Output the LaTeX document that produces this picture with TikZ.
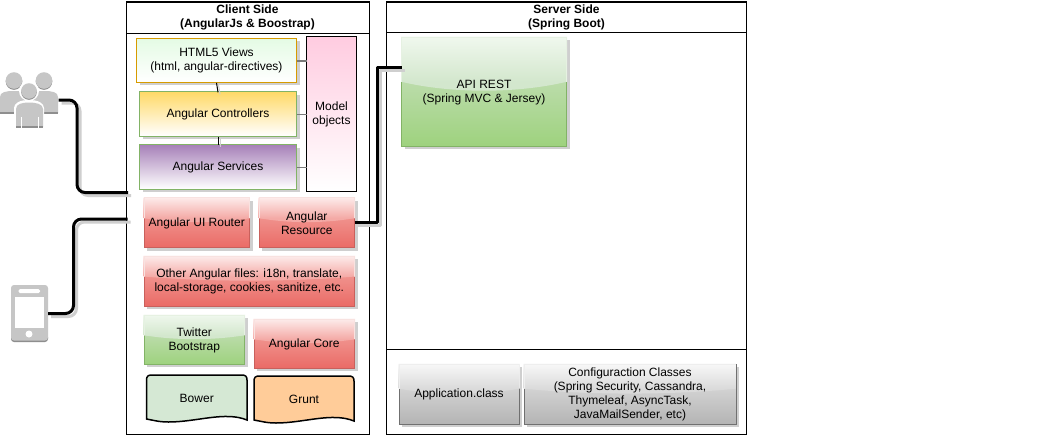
\documentclass[tikz,border=0pt]{standalone}
\usepackage{fontspec}
\setmainfont{Liberation Sans}
\definecolor{redA}{HTML}{FDEDEC}\definecolor{redB}{HTML}{F4AAA6}\definecolor{redC}{HTML}{F0918C}\definecolor{redD}{HTML}{EA6B66}\definecolor{redE}{HTML}{C9605C}\definecolor{redF}{HTML}{F8E2E0}
\definecolor{grnA}{HTML}{F0F8EE}\definecolor{grnB}{HTML}{D3E7CD}\definecolor{grnC}{HTML}{BBDCAA}\definecolor{grnD}{HTML}{9ED27E}\definecolor{grnE}{HTML}{82B366}\definecolor{grnF}{HTML}{E6F1E2}
\definecolor{gryA}{HTML}{F8F8F8}\definecolor{gryB}{HTML}{DADADA}\definecolor{gryC}{HTML}{D2D2D2}\definecolor{gryD}{HTML}{B4B4B4}\definecolor{gryE}{HTML}{707070}\definecolor{gryF}{HTML}{EEEEEE}
\definecolor{shadowc}{HTML}{CFCFCF}
\definecolor{icon}{HTML}{C6C6C6}
\definecolor{icond}{HTML}{8E8E8E}
\definecolor{modelc}{HTML}{FFCCE0}
\definecolor{htmlc}{HTML}{E4FBE4}
\definecolor{htmlb}{HTML}{D79B00}
\definecolor{ctrlc}{HTML}{FFD966}
\definecolor{servc}{HTML}{A680B8}
\definecolor{bowerc}{HTML}{D5E8D4}
\definecolor{gruntc}{HTML}{FFCC99}
\definecolor{tiec}{HTML}{7A7A7A}
\tikzset{
  every node/.style={font=\fontsize{12}{14}\selectfont,align=center,inner sep=0pt,outer sep=0pt},
  frame/.style={draw=black,line width=1pt,fill=none,rectangle},
  wire/.style={line width=3pt,black,line join=round},
  wireshadow/.style={line width=3pt,shadowc,line join=round},
  tie/.style={line width=1pt,black},
  tieg/.style={line width=1.4pt,tiec},
  tieshadow/.style={line width=1pt,shadowc},
  docshape/.style={draw=black,line width=1.5pt},
  offset/.style={transform canvas={xshift=3pt,yshift=-3pt}},
}
\newcommand\boxat[6]{%
  \pgfmathsetmacro\mycx{(#2+#4)/2}\pgfmathsetmacro\mycy{(#3+#5)/2+0.8}
  \pgfmathsetmacro\myw{#4-#2}\pgfmathsetmacro\myh{#5-#3}
  \node[minimum width=\myw pt,minimum height=\myh pt,#6] (#1) at (\mycx,\mycy)}
\newcommand\glassbox[7]{%
  \fill[shadowc] (#2+3,#3+3) rectangle (#4+3,#5+3);
  \pgfmathsetmacro\myedge{#3+0.41*(#5-#3)}
  \pgfmathsetmacro\mydip{#3+0.52*(#5-#3)}
  \pgfmathsetmacro\myxa{#2+0.3*(#4-#2)}
  \pgfmathsetmacro\myxb{#2+0.7*(#4-#2)}
  \shade[top color=#6C,bottom color=#6D] (#2,\myedge) rectangle (#4,#5);
  \draw[#6E,line width=1pt] (#2,#3) rectangle (#4,#5);
  \begin{scope}
    \clip (#2-.5,#3-.5) -- (#4+.5,#3-.5) -- (#4+.5,\myedge) .. controls (\myxb,\mydip) and (\myxa,\mydip) .. (#2-.5,\myedge) -- cycle;
    \shade[top color=#6A,bottom color=#6B] (#2-.5,#3-.5) rectangle (#4+.5,\myedge);
    \fill[#6B] (#2-.5,\myedge) rectangle (#4+.5,\mydip);
    \draw[#6F,line width=1pt] (#2,\mydip) -- (#2,#3) -- (#4,#3) -- (#4,\mydip);
  \end{scope}
  \boxat{#1}{#2}{#3}{#4}{#5}{}{#7};
}
\newcommand\gradbox[9]{%
  \fill[shadowc] (#2+3,#3+3) rectangle (#4+3,#5+3);
  \shade[top color=#6,bottom color=#7] (#2,#3) rectangle (#4,#5);
  \draw[#8,line width=1pt] (#2,#3) rectangle (#4,#5);
  \boxat{#1}{#2}{#3}{#4}{#5}{}{#9};
}
\newcommand\docbox[7]{%
  \draw[docshape,fill=#6] (#2,#5-1) -- (#2,#3+5) .. controls (#2,#3+1.5) and (#2+1.5,#3) .. (#2+5,#3) -- (#4-5,#3) .. controls (#4-1.5,#3) and (#4,#3+1.5) .. (#4,#3+5) -- (#4,#5) .. controls (#4-22,#5-9) and (#4-50,#5+2) .. (#2+22,#5+2) .. controls (#2+12,#5+2) and (#2+6,#5) .. (#2,#5-1) -- cycle;
  \boxat{#1}{#2}{#3}{#4}{#5}{}{#7};
}
\begin{document}
\begin{tikzpicture}[x=1pt,y=-1pt]
\useasboundingbox (0,0) rectangle (1047,437);
\fill[white] (0,0) rectangle (1047,437);

% group frames
\boxat{client}{126.5}{1.5}{369.5}{434}{frame}{};
\draw[line width=1pt] (126.5,1.5) rectangle (369.5,33);
\node (clienthead) at (247.5,17.2) {\textbf{Client Side}\\\textbf{(AngularJs \& Boostrap)}};
\boxat{server}{386.5}{1.5}{746.5}{434}{frame}{};
\draw[line width=1pt] (386.5,1.5) rectangle (746.5,32);
\node (serverhead) at (566.5,17) {\textbf{Server Side}\\\textbf{(Spring Boot)}};
\draw[line width=1pt] (386.5,349.5) -- (746.5,349.5);

% stacked boxes
\gradbox{html}{136.5}{38}{296.5}{82}{htmlc}{white}{htmlb}{HTML5 Views\\(html, angular-directives)}
\gradbox{ctrl}{139.5}{91.5}{296.5}{136}{ctrlc}{white}{grnE}{Angular Controllers}
\gradbox{serv}{139.5}{144.5}{296.5}{189}{servc}{white}{grnE}{Angular Services}
\shade[top color=modelc,bottom color=white] (306.5,36.5) rectangle (356.5,191);
\draw[black,line width=1pt] (306.5,36.5) rectangle (356.5,191);
\boxat{model}{306.5}{36.5}{356.5}{191}{}{Model\\objects};

\draw[tieshadow] ([shift={(2,2)}]html.south) -- ([shift={(2,2)}]ctrl.north);
\draw[tie] (html.south) -- (ctrl.north);
\draw[tieshadow] ([shift={(2,2)}]ctrl.south) -- ([shift={(2,2)}]serv.north);
\draw[tie] (ctrl.south) -- (serv.north);
\draw[tieg] (html.east) -- (model.west |- html.east);
\draw[tieg] (ctrl.east) -- (model.west |- ctrl.east);
\draw[tieg] (serv.east) -- (model.west |- serv.east);

% red and green glass boxes
\glassbox{router}{144}{197.5}{249.5}{247.5}{red}{Angular UI Router}
\glassbox{resource}{259}{197.5}{354.5}{247.5}{red}{Angular\\Resource}
\glassbox{other}{144}{256}{354.5}{306}{red}{Other Angular files: i18n, translate,\\local-storage, cookies, sanitize, etc.}
\glassbox{twitter}{144}{315}{244.5}{364}{grn}{Twitter\\Bootstrap}
\glassbox{core}{254}{319}{354.5}{368}{red}{Angular Core}
\docbox{bower}{146.5}{375}{247}{420}{bowerc}{Bower}
\docbox{grunt}{254}{376}{354}{421}{gruntc}{Grunt}

\glassbox{api}{401.5}{37}{566.5}{146}{grn}{API REST\\(Spring MVC \& Jersey)}
\glassbox{app}{399}{364}{519}{424}{gry}{Application.class}
\glassbox{config}{524}{364}{736}{424}{gry}{Configuraction Classes\\(Spring Security, Cassandra,\\Thymeleaf, AsyncTask,\\JavaMailSender, etc)}

% users icon
\node[minimum width=58pt,minimum height=47pt] (users) at (29,103.5) {};
\foreach \hx in {14,44}{
  \fill[icond] (\hx,81.5) circle (8.3);
  \fill[icon] (\hx,80.5) circle (8.3);
  \fill[icon] (\hx-14,113) -- (\hx-14,97) .. controls (\hx-14,92) and (\hx-8,91) .. (\hx,91) .. controls (\hx+8,91) and (\hx+14,92) .. (\hx+14,97) -- (\hx+14,113) -- cycle;
  \fill[icond] (\hx-14,112) rectangle (\hx+14,113.5);
}
\fill[white] (29,91) circle (10);
\fill[white] (14,127.5) -- (14,108) .. controls (14,103) and (20,100) .. (29,100) .. controls (38,100) and (44,103) .. (44,108) -- (44,127.5) -- cycle;
\fill[icond] (29,92) circle (7.8);
\fill[icon] (29,91) circle (7.8);
\fill[icon] (16,127) -- (16,109) .. controls (16,104) and (22,102.5) .. (29,102.5) .. controls (36,102.5) and (43,104) .. (43,109) -- (43,127) -- cycle;
\fill[icond] (16,125.5) rectangle (43,127.5);
\fill[white] (21,117) rectangle (21.8,127.5);
\fill[white] (37.5,117) rectangle (38.3,127.5);

% phone icon
\node[minimum width=37pt,minimum height=57pt] (phone) at (29.5,313.5) {};
\fill[icond,rounded corners=3pt] (phone.south west) rectangle ([yshift=8pt]phone.south east);
\fill[icon,rounded corners=3pt] ([yshift=1.5pt]phone.south west) rectangle (phone.north east);
\fill[white] (15,297) rectangle (44,328);
\fill[white,rounded corners=1.5pt] (18.5,289) rectangle (40,293);
\fill[white] (29,334) circle (3.5);

% connectors
\coordinate (usersout) at (58.5,100);
\coordinate (phoneout) at (48,313.5);
\coordinate (clientina) at (128,192.5);
\coordinate (clientinb) at (127.5,219);
\coordinate (apiin) at (401.5,67);
\coordinate (ua) at (77,100);
\coordinate (ub) at (77,192.5);
\coordinate (pa) at (73.5,313.5);
\coordinate (pb) at (73.5,219);
\coordinate (ra) at (377,222.5);
\coordinate (rb) at (377,67);

\draw[wireshadow,offset,rounded corners=8pt] (usersout) -- (ua) -- (ub) -- (clientina);
\draw[wireshadow,offset,rounded corners=8pt] (phoneout) -- (pa) -- (pb) -- (clientinb);
\draw[wireshadow,offset] (resource.east |- ra) -- (ra) -- (rb) -- (apiin);
\draw[wire,rounded corners=8pt] (usersout) -- (ua) -- (ub) -- (clientina);
\draw[wire,rounded corners=8pt] (phoneout) -- (pa) -- (pb) -- (clientinb);
\draw[wire] (resource.east |- ra) -- (ra) -- (rb) -- (apiin);
\end{tikzpicture}
\end{document}
